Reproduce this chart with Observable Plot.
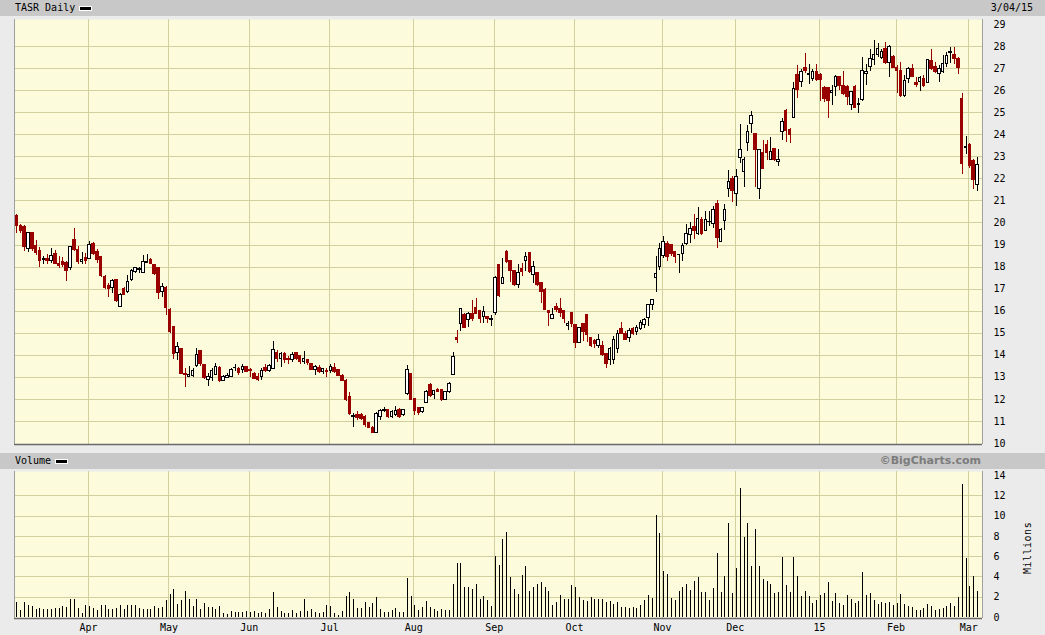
<!DOCTYPE html>
<html>
<head>
<meta charset="utf-8">
<script src="https://cdn.jsdelivr.net/npm/d3@7"></script>
<script src="https://cdn.jsdelivr.net/npm/@observablehq/plot@0.6"></script>
<style>
  html, body { margin: 0; padding: 0; background: #ebebeb; }
  #wrap { position: relative; width: 1045px; height: 635px; overflow: hidden; background: #ebebeb; }
  .hdr { position: absolute; left: 0; width: 1045px; background: #c8c8c8; }
  .t { position: absolute; font-family: "DejaVu Sans Mono", monospace; font-size: 10px; color: #000; line-height: 16px; top: 0; }
  .leg { position: absolute; width: 11px; height: 3px; background: #000; border: 1px solid #fff; }
  .copy { position: absolute; right: 64px; top: 0; line-height: 16px; font-family: "DejaVu Sans", sans-serif; font-weight: bold; font-size: 11px; color: #7c7c7c; }
  #price, #vol { position: absolute; left: 0; }
  #mill { position: absolute; left: 1003px; top: 541px; width: 52px; text-align: center; font-family: "DejaVu Sans Mono", monospace; font-size: 10px; letter-spacing: 0.5px; transform: rotate(-90deg); transform-origin: 26px 7px; color: #000; }
</style>
</head>
<body>
<div id="wrap">
  <div class="hdr" style="top:0;height:16px;">
    <span class="t" style="left:15px;">TASR Daily</span>
    <span class="leg" style="left:79px;top:6px;"></span>
    <span class="t" style="right:12px;">3/04/15</span>
  </div>
  <div id="price" style="top:19px;"></div>
  <div class="hdr" style="top:453px;height:16px;">
    <span class="t" style="left:15px;">Volume</span>
    <span class="leg" style="left:55px;top:6px;"></span>
    <span class="copy">©BigCharts.com</span>
  </div>
  <div id="vol" style="top:471px;"></div>
  <div id="mill">Millions</div>
</div>
<script>
// ---- Data (trading day index 0 = Mar 5 2014 ... 251 = Mar 4 2015) ----
const opens = [
20.3,19.88,19.8,18.84,19.54,18.94,18.73,18.3,18.35,18.27,
18.58,18.16,18.24,18.2,17.94,19.24,18.79,18.24,18.43,18.37,
19.03,18.69,18.46,17.54,17.12,17.04,17.39,16.19,17.0,16.85,
17.42,17.79,17.85,17.75,18.2,18.31,18.09,17.94,16.85,17.07,
16.06,15.27,14.09,14.26,13.15,13.0,13.05,13.52,14.18,13.56,
12.88,12.97,13.12,13.42,12.85,12.97,13.0,13.4,13.38,13.33,
13.48,13.33,13.15,13.03,13.0,13.42,13.27,13.38,14.09,13.83,
14.06,13.82,13.79,14.09,13.95,13.68,13.79,13.6,13.33,13.42,
13.23,13.3,13.3,13.43,13.31,13.08,12.85,12.1,11.22,11.27,
11.31,11.19,10.92,10.71,10.47,11.22,11.48,11.53,11.22,11.27,
11.5,11.27,12.25,13.16,12.02,11.62,11.42,11.83,12.67,12.18,
12.43,12.4,11.98,12.33,13.11,14.76,15.43,15.81,15.62,15.89,
16.14,16.0,15.74,15.74,15.62,15.92,18.08,17.25,18.68,18.27,
17.82,17.17,17.93,18.27,18.64,17.63,17.73,17.28,16.98,16.0,
15.66,16.19,16.11,16.0,15.31,15.92,15.36,14.56,15.4,15.81,
14.78,14.63,14.41,14.41,14.05,13.77,13.8,14.3,15.17,14.98,
14.8,15.17,15.06,15.17,15.36,15.71,16.27,17.51,18.0,18.49,
19.06,18.99,18.69,18.53,18.61,19.03,19.44,19.82,19.52,20.15,
19.62,20.05,19.94,20.88,19.14,20.09,21.56,22.0,21.33,22.96,
22.31,23.63,24.5,24.05,21.56,23.17,23.52,22.87,23.37,22.76,
24.12,25.08,24.2,24.77,26.69,26.38,27.03,26.72,26.53,26.84,
26.73,26.13,26.13,25.89,26.19,26.64,26.23,26.16,25.33,26.19,
25.36,25.58,26.76,27.06,27.4,27.64,27.49,27.89,27.24,27.55,
27.03,26.91,25.78,26.53,26.99,26.35,26.38,26.53,26.34,27.37,
27.06,26.76,26.84,27.21,27.72,27.64,27.44,25.63,23.42,23.52,
22.8,21.7];
const highs = [
20.4,19.95,19.88,19.58,19.55,19.2,18.9,18.5,18.58,18.84,
18.76,18.46,18.43,18.27,18.94,19.75,18.91,18.67,18.6,19.16,
19.1,18.8,18.49,17.6,17.27,17.42,17.45,16.82,17.09,17.6,
17.9,17.97,18.0,18.54,18.58,18.37,18.1,17.94,17.27,17.1,
16.1,15.3,14.58,14.3,13.42,13.48,13.42,14.29,14.2,13.6,
13.15,13.38,13.64,13.5,13.09,13.15,13.4,13.58,13.45,13.56,
13.5,13.4,13.2,13.15,13.42,13.6,13.6,14.62,14.2,14.14,
14.14,13.94,14.14,14.14,13.98,14.18,13.79,13.64,13.53,13.53,
13.42,13.38,13.6,13.61,13.35,13.12,12.88,12.33,11.34,11.45,
11.35,11.27,10.95,10.75,11.38,11.53,11.65,11.56,11.48,11.68,
11.57,11.56,13.53,13.16,12.02,11.62,11.65,12.4,12.7,12.4,
12.5,12.45,12.36,12.78,14.14,15.12,16.11,15.9,15.96,16.49,
16.56,16.04,16.19,15.77,15.81,17.55,18.1,18.38,18.76,18.3,
17.85,18.12,18.15,18.68,18.68,18.23,17.76,17.3,17.02,16.04,
16.11,16.34,16.56,16.04,15.51,15.96,15.38,15.28,15.43,15.86,
14.82,14.7,14.94,14.6,14.08,14.35,14.83,15.14,15.47,15.06,
15.21,15.26,15.36,15.59,15.66,16.31,16.53,18.46,19.06,19.4,
19.14,19.0,18.7,18.55,19.06,19.94,20.0,20.4,20.69,20.27,
20.5,20.5,20.76,21.03,19.74,20.85,22.39,22.11,22.41,24.47,
22.96,24.43,25.06,24.05,23.32,23.75,23.75,23.87,23.4,23.32,
24.73,25.14,24.27,26.38,27.14,26.94,27.67,27.18,26.94,27.18,
26.76,26.19,26.16,26.23,26.69,26.66,26.87,26.23,25.96,26.23,
25.63,27.49,27.21,27.85,28.3,28.15,27.89,28.2,28.05,27.6,
27.14,27.29,26.69,27.06,27.21,26.61,26.64,26.69,27.4,27.89,
27.29,27.14,27.59,27.74,27.97,27.97,27.49,25.89,23.92,23.59,
22.86,22.98];
const lows = [
19.5,19.5,18.7,18.64,18.7,18.54,18.0,18.1,18.1,18.15,
18.1,17.94,18.0,17.34,17.84,18.72,18.13,18.13,18.13,18.33,
18.54,18.16,17.54,17.0,16.63,16.81,16.4,16.15,16.72,16.82,
17.34,17.69,17.7,17.69,18.16,18.13,17.6,16.52,16.64,15.8,
14.97,13.8,13.76,13.12,12.52,12.97,13.0,13.44,13.5,12.92,
12.58,12.82,13.06,12.77,12.82,12.95,12.97,13.27,13.1,13.15,
13.2,13.0,12.9,12.82,12.85,13.23,13.23,13.33,13.68,13.45,
13.62,13.6,13.68,13.76,13.6,13.6,13.53,13.3,13.1,13.15,
13.12,12.97,13.15,13.16,13.05,12.8,11.92,11.26,10.74,11.04,
11.05,10.74,10.68,10.44,10.44,11.04,11.38,11.12,11.15,11.22,
11.12,11.22,12.18,11.95,11.27,11.27,11.35,11.8,12.1,11.98,
12.3,11.9,11.95,12.25,13.08,14.55,15.06,15.2,15.28,15.51,
15.86,15.43,15.46,15.43,15.31,15.81,16.61,17.2,18.15,17.32,
17.1,17.02,17.55,17.82,17.73,17.25,17.1,16.34,16.04,15.31,
15.66,15.96,15.7,15.43,15.13,15.25,14.3,14.52,14.6,14.56,
14.37,14.3,14.3,13.92,13.4,13.54,13.59,14.08,14.98,14.68,
14.56,14.9,14.9,15.11,15.21,15.29,16.04,16.83,17.86,18.38,
18.23,18.46,18.16,17.7,18.23,18.99,19.06,19.24,19.44,19.44,
19.6,19.82,19.74,18.84,19.14,19.67,21.15,20.91,20.76,22.72,
21.63,23.26,24.08,21.6,21.06,22.46,22.84,22.84,22.81,22.54,
23.75,23.63,23.6,24.72,25.63,26.13,26.79,26.28,26.43,26.43,
25.52,25.48,24.72,25.33,25.73,26.0,25.78,25.33,25.1,25.22,
24.98,25.52,26.23,26.88,27.14,27.52,27.4,27.21,26.6,27.0,
25.89,25.7,25.7,26.31,26.58,26.13,25.98,26.16,26.31,26.91,
26.76,26.38,26.79,27.06,27.24,27.21,26.72,22.2,23.1,22.45,
21.5,21.44];
const closes = [
19.85,19.63,18.9,19.54,18.84,18.64,18.27,18.35,18.27,18.5,
18.16,18.06,18.09,17.84,18.91,18.79,18.24,18.31,18.28,18.99,
18.61,18.34,17.6,17.04,17.0,17.37,16.45,16.75,16.75,17.34,
17.84,17.94,17.9,18.24,18.24,18.16,17.69,16.82,17.09,16.15,
15.05,14.06,14.39,13.15,13.1,13.1,13.27,14.03,13.58,12.95,
13.03,13.3,13.48,12.82,13.03,13.08,13.33,13.42,13.18,13.48,
13.23,13.3,12.92,12.88,13.3,13.3,13.53,14.24,13.83,14.06,
13.79,13.79,14.03,13.83,13.68,13.83,13.64,13.33,13.45,13.23,
13.38,13.23,13.48,13.23,13.08,12.82,11.95,11.34,11.25,11.16,
11.12,10.82,10.71,10.47,11.34,11.45,11.5,11.19,11.42,11.47,
11.22,11.5,13.34,11.99,11.47,11.37,11.62,12.33,12.13,12.36,
12.33,11.95,12.33,12.7,13.91,14.7,16.11,15.25,15.89,15.66,
15.89,15.66,15.96,15.63,15.65,17.52,16.67,17.52,18.23,17.82,
17.17,17.73,17.78,18.45,17.78,18.0,17.17,16.87,16.07,15.92,
15.81,16.04,15.92,15.66,15.4,15.4,14.56,15.25,15.06,14.9,
14.41,14.5,14.71,14.0,13.62,14.3,14.68,14.98,14.98,14.71,
15.09,14.98,15.24,15.44,15.62,16.27,16.5,17.7,18.84,19.14,
18.46,18.58,18.46,18.54,18.94,19.52,19.74,19.64,20.2,19.52,
20.12,20.06,20.58,19.34,19.7,20.6,21.86,21.45,22.08,23.29,
22.87,24.12,24.83,23.29,23.29,22.46,23.17,23.22,22.84,22.87,
24.58,24.17,24.0,26.08,26.04,26.84,26.88,26.74,26.84,26.49,
26.49,25.63,25.55,26.0,26.64,26.23,25.86,25.73,25.93,25.22,
25.38,26.88,26.84,27.44,27.64,27.89,27.74,27.24,28.0,27.03,
26.91,25.78,26.46,26.99,26.61,26.28,26.58,26.23,27.4,26.99,
26.84,26.99,27.21,27.59,27.74,27.44,27.03,22.68,23.44,22.6,
21.93,22.65];
// volume, millions of shares
const volumes = [
1.49,0.70,1.49,1.19,1.09,0.79,0.89,0.76,0.76,0.79,
0.89,0.89,1.09,1.03,1.79,1.79,0.89,0.43,1.19,1.09,
0.89,0.70,1.19,1.19,0.79,0.79,0.89,1.19,0.79,1.19,
1.16,1.19,0.89,0.79,0.79,0.79,1.09,0.89,0.95,1.69,
2.28,2.78,1.29,1.69,2.58,1.79,1.09,1.79,0.79,1.39,
0.99,0.99,0.79,1.09,0.40,0.30,0.60,0.50,0.50,0.50,
0.60,0.50,0.60,0.40,0.50,0.40,0.79,2.48,0.99,0.60,
0.40,0.40,0.70,0.40,0.60,1.79,0.60,0.79,0.50,0.40,
0.50,1.19,1.09,0.40,0.20,0.60,2.09,2.48,1.79,0.89,
0.89,1.49,0.99,1.39,1.99,0.79,0.50,0.50,0.70,0.89,
0.50,0.50,3.87,2.09,1.19,0.70,0.99,1.59,0.99,0.79,
0.60,0.79,0.70,0.70,3.28,5.36,5.36,2.98,2.98,2.78,
3.28,1.79,2.09,1.69,1.09,6.06,5.17,7.7,8.4,3.9,
2.8,2.3,4.1,5.0,2.6,3.0,3.3,3.4,3.0,2.6,
1.2,1.5,2.2,1.8,1.8,3.2,3.0,2.0,1.7,1.6,
2.0,1.8,1.8,1.8,1.5,1.6,1.3,1.5,1.0,1.0,
0.9,1.0,0.9,1.2,1.7,2.2,1.9,10.1,8.3,4.5,
4.2,1.9,1.7,2.6,3.0,3.3,2.7,3.5,3.9,2.5,
2.5,1.7,2.9,6.3,2.5,4.0,9.3,2.4,4.8,12.7,
7.9,9.3,5.0,8.7,5.0,3.7,3.5,3.3,2.4,2.5,
5.9,3.2,2.5,5.9,4.0,2.1,2.6,2.1,1.4,1.7,
2.2,2.4,3.4,1.6,2.4,1.4,1.2,2.2,1.8,1.4,
1.6,4.4,2.2,2.4,1.7,1.3,1.5,1.4,1.5,1.2,
1.4,2.3,1.3,1.1,1.0,0.7,0.7,0.9,1.3,1.1,
0.7,0.8,0.9,1.1,1.4,1.1,2.0,13.1,5.8,3.1,
4.0,2.6];
// first trading day index of each month, and its axis label
const monthStarts = [19, 40, 61, 82, 104, 125, 146, 169, 188, 210, 230, 249];
const monthLabels = ["Apr","May","Jun","Jul","Aug","Sep","Oct","Nov","Dec","15","Feb","Mar"];
const priceTicks = [10,11,12,13,14,15,16,17,18,19,20,21,22,23,24,25,26,27,28,29];
const volumeTicks = [0,2,4,6,8,10,12,14];

// ---- Build ----
const candles = opens.map((o, i) => ({i, o, h: highs[i], l: lows[i], c: closes[i]}));
const up = candles.filter(d => d.c >= d.o);
const down = candles.filter(d => d.c < d.o);
const vols = volumes.map((v, i) => ({i, v}));
const gridPos = monthStarts.map(m => m - 0.3);
const labelMap = new Map(gridPos.map((g, k) => [g, monthLabels[k]]));

const BG = "#fcfbdc", GRID = "#d3d0a0", RED = "#990000";
const CRISP = {shapeRendering: "crispEdges"};
const xDomain = [-0.65, 252.3];
const font = {fontFamily: "'DejaVu Sans Mono', monospace", fontSize: "10px", background: "transparent", color: "#000", overflow: "visible"};

const priceChart = Plot.plot({
  width: 1045, height: 425,
  marginLeft: 14, marginRight: 63, marginTop: 0, marginBottom: 0,
  style: font,
  x: {domain: xDomain, axis: null, label: null},
  y: {domain: [9.95, 29.23], label: null},
  marks: [
    Plot.frame({fill: BG, stroke: null}),
    Plot.ruleX(gridPos, {stroke: GRID, strokeWidth: 1, ...CRISP}),
    Plot.ruleY(priceTicks.filter(t => t > 10 && t < 29), {stroke: GRID, strokeWidth: 1, ...CRISP}),
    Plot.ruleX(down, {x: "i", y1: "l", y2: "h", stroke: RED, strokeWidth: 1, ...CRISP}),
    Plot.ruleX(up, {x: "i", y1: "l", y2: "h", stroke: "#000", strokeWidth: 1, ...CRISP}),
    Plot.rect(down, {x1: d => d.i - 0.33, x2: d => d.i + 0.33, y1: "c", y2: "o", fill: RED, stroke: RED, strokeWidth: 1, ...CRISP}),
    Plot.rect(up, {x1: d => d.i - 0.33, x2: d => d.i + 0.33, y1: "o", y2: "c", fill: "#fff", stroke: "#000", strokeWidth: 1, ...CRISP}),
    Plot.axisY({anchor: "right", ticks: priceTicks, tickSize: 0, tickPadding: 11, tickFormat: d => String(d)}),
    Plot.ruleX([xDomain[0]], {stroke: "#a0a0a0", ...CRISP}),
    Plot.ruleY([9.95], {stroke: "#6a6a6a", strokeWidth: 1.5}),
    Plot.ruleX([xDomain[1]], {stroke: "#a0a0a0", ...CRISP})
  ]
});
document.getElementById("price").appendChild(priceChart);

const volChart = Plot.plot({
  width: 1045, height: 164,
  marginLeft: 14, marginRight: 63, marginTop: 0, marginBottom: 17,
  style: font,
  x: {domain: xDomain, label: null},
  y: {domain: [-0.1, 14.39], label: null},
  marks: [
    Plot.frame({fill: BG, stroke: null}),
    Plot.ruleX(gridPos, {stroke: GRID, strokeWidth: 1, ...CRISP}),
    Plot.ruleY(volumeTicks.filter(t => t > 0 && t < 14), {stroke: GRID, strokeWidth: 1, ...CRISP}),
    Plot.ruleX(vols, {x: "i", y1: 0, y2: "v", stroke: "#000", strokeWidth: 1, ...CRISP}),
    Plot.axisY({anchor: "right", ticks: volumeTicks, tickSize: 0, tickPadding: 11, tickFormat: d => String(d)}),
    Plot.axisX({anchor: "bottom", ticks: gridPos, tickSize: 0, tickPadding: 5, tickFormat: d => labelMap.get(d)}),
    Plot.ruleX([xDomain[0]], {stroke: "#a0a0a0", ...CRISP}),
    Plot.ruleY([-0.1], {stroke: "#6a6a6a", strokeWidth: 1.5}),
    Plot.ruleX([xDomain[1]], {stroke: "#a0a0a0", ...CRISP})
  ]
});
document.getElementById("vol").appendChild(volChart);
</script>
</body>
</html>
